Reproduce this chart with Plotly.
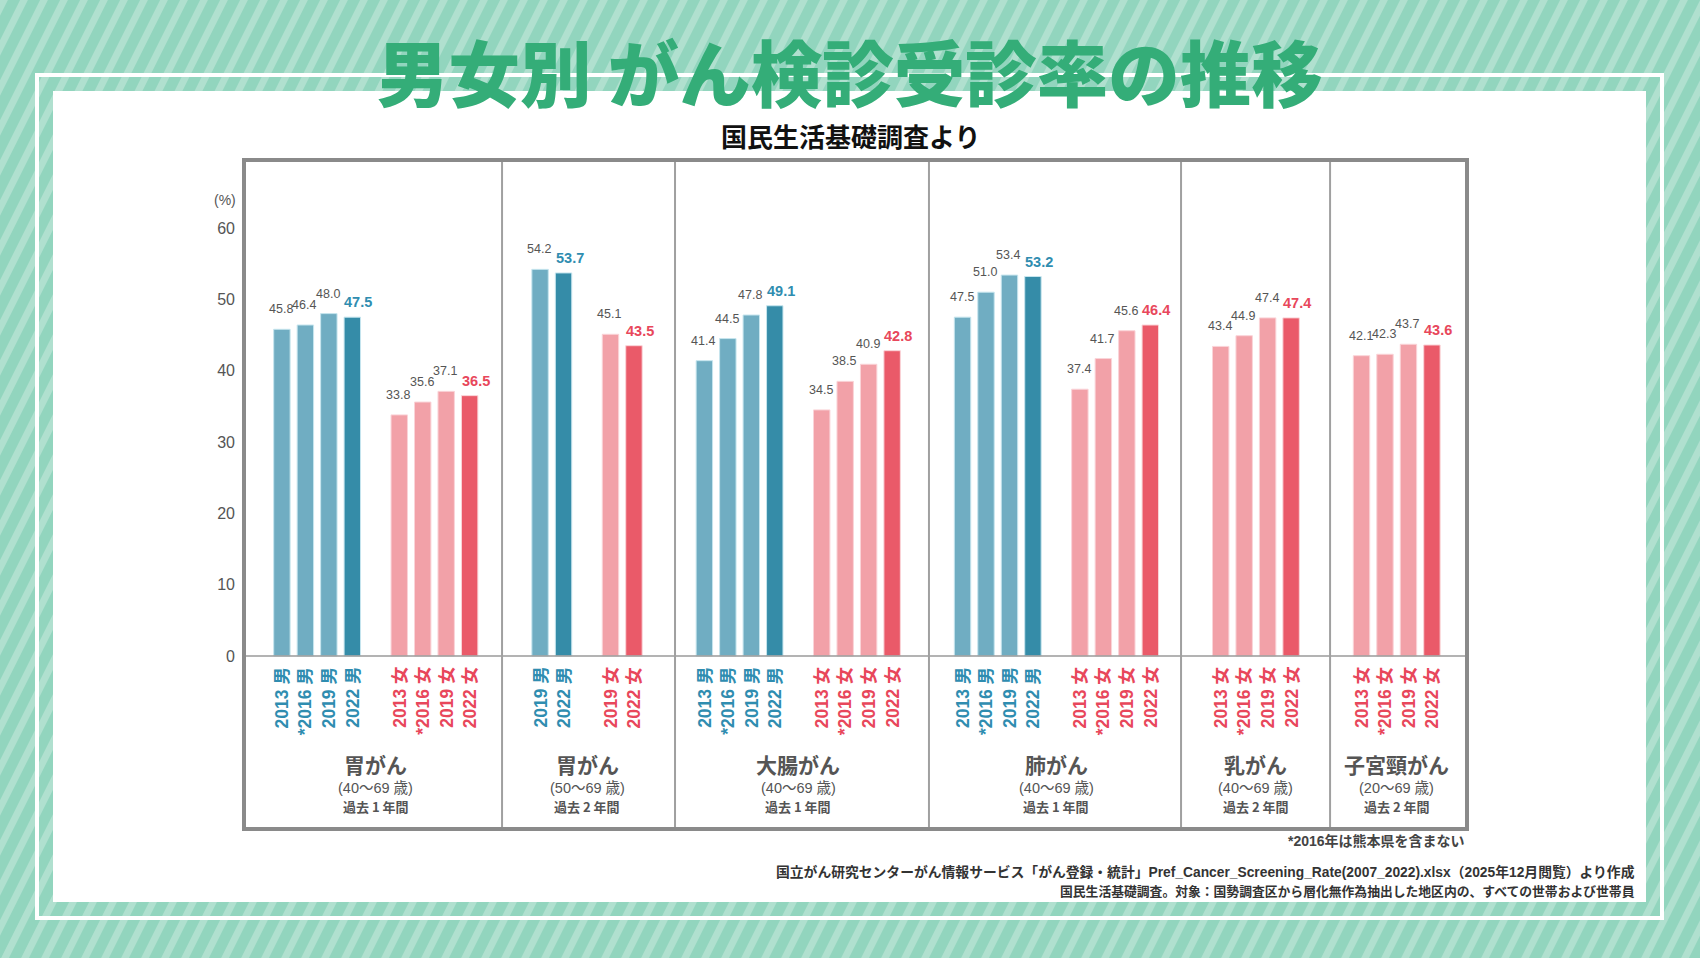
import plotly.graph_objects as go

# ---------------- data ----------------
panel_names = ["胃がん", "胃がん", "大腸がん", "肺がん", "乳がん", "子宮頸がん"]
panel_ages = ["(40～69 歳)", "(50～69 歳)", "(40～69 歳)", "(40～69 歳)", "(40～69 歳)", "(20～69 歳)"]
panel_periods = ["過去 1 年間", "過去 2 年間", "過去 1 年間", "過去 1 年間", "過去 2 年間", "過去 2 年間"]

male_years = [["2013", "*2016", "2019", "2022"], ["2019", "2022"],
              ["2013", "*2016", "2019", "2022"], ["2013", "*2016", "2019", "2022"], [], []]
male_rates = [[45.8, 46.4, 48.0, 47.5], [54.2, 53.7],
              [41.4, 44.5, 47.8, 49.1], [47.5, 51.0, 53.4, 53.2], [], []]
female_years = [["2013", "*2016", "2019", "2022"], ["2019", "2022"],
                ["2013", "*2016", "2019", "2022"], ["2013", "*2016", "2019", "2022"],
                ["2013", "*2016", "2019", "2022"], ["2013", "*2016", "2019", "2022"]]
female_rates = [[33.8, 35.6, 37.1, 36.5], [45.1, 43.5],
                [34.5, 38.5, 40.9, 42.8], [37.4, 41.7, 45.6, 46.4],
                [43.4, 44.9, 47.4, 47.4], [42.1, 42.3, 43.7, 43.6]]
male_suffix = "男"
female_suffix = "女"
y_ticks = [0, 10, 20, 30, 40, 50, 60]

title_text = "男女別 がん検診受診率の推移"
subtitle_text = "国民生活基礎調査より"
footnote_text = "*2016年は熊本県を含まない"
source_lines = ["国立がん研究センターがん情報サービス「がん登録・統計」Pref_Cancer_Screening_Rate(2007_2022).xlsx（2025年12月閲覧）より作成",
                "国民生活基礎調査。対象：国勢調査区から層化無作為抽出した地区内の、すべての世帯および世帯員"]

# ---------------- style / layout constants ----------------
W, H = 1700, 958
L, R, T, B = 244, 1467, 160, 829          # chart frame (plot area) in px
Y0_PX, Y60_PX = 656, 228
SLOT0_PX, SLOT_PX = 281.9, 23.47
DIVIDERS = [9.38, 16.75, 27.57, 38.31, 44.66]

M_LIGHT, M_DARK = "#70adc2", "#358ca8"
F_LIGHT, F_DARK = "#f2a1a8", "#ea5a69"
M_TEXT, F_TEXT = "#2f8db0", "#e8475b"
GRAY = "#555555"
FONT = "Liberation Sans, Noto Sans CJK JP, sans-serif"
CJK = "Noto Sans CJK JP, sans-serif"


def pxx(x):
    return (x - L) / (R - L)


def pxy(y):
    return (B - y) / (B - T)


y_per = (Y0_PX - Y60_PX) / 60.0
y_range = [-(B - Y0_PX) / y_per, (Y0_PX - T) / y_per]
x_range = [(L - SLOT0_PX) / SLOT_PX, (R - SLOT0_PX) / SLOT_PX]

# ---------------- slot positions ----------------
m_x, m_y, m_c, m_lab, m_last = [], [], [], [], []
f_x, f_y, f_c, f_lab, f_last = [], [], [], [], []
centers = []
slot = 0
for i in range(len(panel_names)):
    start = slot
    for j, v in enumerate(male_rates[i]):
        last = j == len(male_rates[i]) - 1
        m_x.append(slot); m_y.append(v); m_last.append(last)
        m_c.append(M_DARK if last else M_LIGHT)
        m_lab.append(male_years[i][j] + " " + male_suffix)
        slot += 1
    if male_rates[i] and female_rates[i]:
        slot += 1
    for j, v in enumerate(female_rates[i]):
        last = j == len(female_rates[i]) - 1
        f_x.append(slot); f_y.append(v); f_last.append(last)
        f_c.append(F_DARK if last else F_LIGHT)
        f_lab.append(female_years[i][j] + " " + female_suffix)
        slot += 1
    centers.append((start + slot - 1) / 2.0)
    slot += 2

fig = go.Figure()
fig.add_trace(go.Bar(x=m_x, y=m_y, width=0.7, marker=dict(color=m_c, line=dict(color="#c6e5ee", width=1)),
                     hoverinfo="skip"))
fig.add_trace(go.Bar(x=f_x, y=f_y, width=0.7, marker=dict(color=f_c, line=dict(color="#fad4d8", width=1)),
                     hoverinfo="skip"))

ann = []
# value labels
for xs, ys, lasts, col in [(m_x, m_y, m_last, M_TEXT), (f_x, f_y, f_last, F_TEXT)]:
    for x, v, last in zip(xs, ys, lasts):
        if last:
            ann.append(dict(x=x, y=v, xref="x", yref="y", text=f"<b>{v:.1f}</b>", showarrow=False,
                            yanchor="bottom", yshift=5, xshift=6,
                            font=dict(family=FONT, size=14.5, color=col)))
        else:
            ann.append(dict(x=x, y=v, xref="x", yref="y", text=f"{v:.1f}", showarrow=False,
                            yanchor="bottom", yshift=11, xshift=-1,
                            font=dict(family=FONT, size=12.5, color=GRAY)))
# rotated category labels
for xs, labs, col in [(m_x, m_lab, M_TEXT), (f_x, f_lab, F_TEXT)]:
    for x, lab in zip(xs, labs):
        ann.append(dict(x=x, y=pxy(665), xref="x", yref="paper", text="<b>" + lab + "</b>",
                        showarrow=False, textangle=-90, yanchor="top", xanchor="center",
                        font=dict(family=FONT, size=17.5, color=col)))
# panel titles
for c, nm, ag, pr in zip(centers, panel_names, panel_ages, panel_periods):
    ann.append(dict(x=c, y=pxy(764), xref="x", yref="paper", text="<b>" + nm + "</b>", showarrow=False,
                    yanchor="middle", font=dict(family=CJK, size=21, color=GRAY)))
    ann.append(dict(x=c, y=pxy(788), xref="x", yref="paper", text=ag, showarrow=False,
                    yanchor="middle", font=dict(family=FONT, size=14.5, color=GRAY)))
    ann.append(dict(x=c, y=pxy(806), xref="x", yref="paper", text="<b>" + pr + "</b>", showarrow=False,
                    yanchor="middle", font=dict(family=CJK, size=13, color=GRAY)))
# (%)
ann.append(dict(x=pxx(238), y=pxy(200), xref="paper", yref="paper", text="(%)", showarrow=False,
                xanchor="right", yanchor="middle", font=dict(family=FONT, size=14, color=GRAY)))
# title & subtitle
ann.append(dict(x=pxx(850), y=pxy(70), xref="paper", yref="paper", text=title_text,
                showarrow=False, xanchor="center", yanchor="middle",
                font=dict(family=CJK, size=71.5, color="#34ad78", weight=900)))
ann.append(dict(x=pxx(850), y=pxy(135), xref="paper", yref="paper", text="<b>" + subtitle_text + "</b>",
                showarrow=False, xanchor="center", yanchor="middle",
                font=dict(family=CJK, size=26, color="#111111")))
# footnotes
ann.append(dict(x=pxx(1467), y=pxy(841), xref="paper", yref="paper", text="<b>" + footnote_text + "</b>",
                showarrow=False, xanchor="right", yanchor="middle",
                font=dict(family=FONT, size=14, color="#444444")))
src_sizes = [13.8, 12.8]
for k, line in enumerate(source_lines):
    ann.append(dict(x=pxx(1637), y=pxy(872 + 19 * k), xref="paper", yref="paper", text="<b>" + line + "</b>",
                    showarrow=False, xanchor="right", yanchor="middle",
                    font=dict(family=FONT, size=src_sizes[k], color="#333333")))

# ---------------- shapes ----------------
shapes = []
# stripes background
segs = []
for sx in range(-620, 1720, 20):
    segs.append(f"M{pxx(sx):.5f},{pxy(H + 10):.5f}L{pxx(sx + 0.5 * (H + 20)):.5f},{pxy(-10):.5f}")
shapes.append(dict(type="path", xref="paper", yref="paper", path="".join(segs), layer="below",
                   line=dict(color="#b0e0cf", width=7)))
# outer white border
shapes.append(dict(type="rect", xref="paper", yref="paper", x0=pxx(37), x1=pxx(1662), y0=pxy(918), y1=pxy(75),
                   layer="below", line=dict(color="#ffffff", width=4)))
# inner white panel
shapes.append(dict(type="rect", xref="paper", yref="paper", x0=pxx(53), x1=pxx(1646), y0=pxy(902), y1=pxy(91),
                   layer="below", fillcolor="#ffffff", line=dict(width=0)))
# baseline
shapes.append(dict(type="line", xref="paper", yref="y", x0=0, x1=1, y0=0, y1=0,
                   line=dict(color="#9a9a9a", width=1.5)))
# dividers
for d in DIVIDERS:
    shapes.append(dict(type="line", xref="x", yref="paper", x0=d, x1=d, y0=0, y1=1,
                       line=dict(color="#a0a0a0", width=2)))
# frame
shapes.append(dict(type="rect", xref="paper", yref="paper", x0=0, x1=1, y0=0, y1=1,
                   line=dict(color="#8a8a8a", width=4)))

fig.update_layout(
    width=W, height=H, autosize=False,
    margin=dict(l=L, r=W - R, t=T, b=H - B, pad=0),
    paper_bgcolor="#92d5be", plot_bgcolor="rgba(0,0,0,0)",
    showlegend=False, barmode="overlay",
    xaxis=dict(range=x_range, visible=False, fixedrange=True),
    yaxis=dict(range=y_range, tickvals=y_ticks, ticktext=[str(v) for v in y_ticks],
               showgrid=False, zeroline=False, showline=False, ticks="",
               ticklabelstandoff=8, tickfont=dict(family=FONT, size=16, color=GRAY), fixedrange=True),
    annotations=ann, shapes=shapes,
)

fig.write_html("out.html", config={"displayModeBar": False})
